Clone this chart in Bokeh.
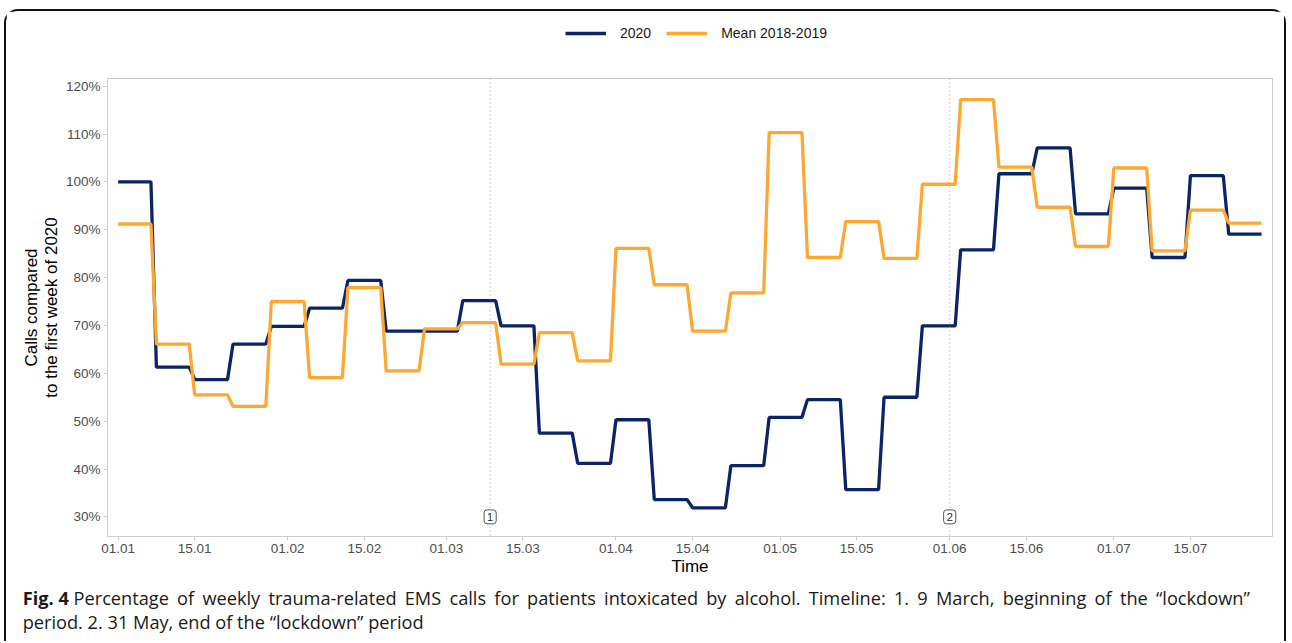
import pandas as pd
from bokeh.plotting import figure
from bokeh.layouts import column
from bokeh.models import (Range1d, FixedTicker, PrintfTickFormatter, Span, Label, Div)
from bokeh.embed import file_html
from bokeh.resources import INLINE

# ---------------- data ----------------
week_starts = pd.date_range("2020-01-01", periods=30, freq="7D")
calls_2020 = [100.0, 61.3, 58.7, 66.1, 69.8, 73.6, 79.4, 68.8, 68.8, 75.2,
              69.9, 47.5, 41.2, 50.3, 33.6, 31.9, 40.7, 50.8, 54.5, 35.7,
              55.0, 69.9, 85.8, 101.7, 107.1, 93.3, 98.7, 84.2, 101.3, 89.1]
calls_mean_2018_2019 = [91.2, 66.1, 55.5, 53.1, 75.0, 59.1, 77.9, 60.5, 69.3, 70.6,
                        61.9, 68.5, 62.6, 86.1, 78.5, 68.8, 76.8, 110.3, 84.2, 91.7,
                        84.0, 99.5, 117.2, 103.1, 94.7, 86.5, 102.9, 85.6, 94.1, 91.4]
tick_dates = ["2020-01-01", "2020-01-15", "2020-02-01", "2020-02-15", "2020-03-01",
              "2020-03-15", "2020-04-01", "2020-04-15", "2020-05-01", "2020-05-15",
              "2020-06-01", "2020-06-15", "2020-07-01", "2020-07-15"]
tick_labels = ["01.01", "15.01", "01.02", "15.02", "01.03", "15.03", "01.04",
               "15.04", "01.05", "15.05", "01.06", "15.06", "01.07", "15.07"]
y_ticks = [30, 40, 50, 60, 70, 80, 90, 100, 110, 120]
event_dates = ["2020-03-09", "2020-06-01"]
event_labels = ["1", "2"]
series_names = ["2020", "Mean 2018-2019"]
caption_bold = "Fig. 4"
caption_line1 = ("Percentage of weekly trauma-related EMS calls for patients intoxicated "
                 "by alcohol. Timeline: 1. 9 March, beginning of the \u201clockdown\u201d")
caption_line2 = "period. 2. 31 May, end of the \u201clockdown\u201d period"

origin = pd.Timestamp("2020-01-01")
def day(d):
    return (pd.Timestamp(d) - origin).days

# each weekly value is held for the 7 days of its week
xs, y20, ymean = [], [], []
for ws, a, b in zip(week_starts, calls_2020, calls_mean_2018_2019):
    d0 = day(ws)
    xs += [d0, d0 + 6]
    y20 += [a, a]
    ymean += [b, b]

NAVY = "#0b2467"
ORANGE = "#fea832"
FONT = "Liberation Sans"
W = 1278

# ---------------- legend strip (keys only; its ranges show none of the data) ----
lf = figure(width=W, height=65, output_backend="svg", toolbar_location=None,
            x_range=Range1d(0, 1), y_range=Range1d(0, 1),
            x_axis_type=None, y_axis_type=None,
            min_border_left=101, min_border_right=12, min_border_top=0,
            min_border_bottom=0)
lf.grid.visible = False
lf.outline_line_color = None
lf.line(xs, y20, line_width=3.3, color=NAVY, legend_label=series_names[0])
lf.line(xs, ymean, line_width=3.3, color=ORANGE, legend_label=series_names[1])
lg = lf.legend[0]
lg.orientation = "horizontal"
lg.location = (458, 35)
lg.margin = 0
lg.padding = 0
lg.spacing = 15
lg.glyph_width = 41
lg.glyph_height = 16
lg.label_height = 16
lg.label_standoff = 14
lg.label_text_font = FONT
lg.label_text_font_size = "14px"
lg.label_text_color = "#1a1a1a"
lg.background_fill_alpha = 0
lg.border_line_color = None

# ---------------- main chart ----------------
p = figure(width=W, height=510, output_backend="svg", toolbar_location=None,
           x_range=Range1d(-1.94, 211.0), y_range=Range1d(25.9, 121.6),
           min_border_left=101, min_border_right=12, min_border_top=2,
           min_border_bottom=50)
p.grid.visible = False
p.outline_line_color = "#cccccc"
p.outline_line_width = 1

for ax in (p.xaxis[0], p.yaxis[0]):
    ax.axis_line_color = "#cccccc"
    ax.major_tick_line_color = "#cccccc"
    ax.minor_tick_line_color = None
    ax.major_tick_in = 0
    ax.major_tick_out = 4
    ax.major_label_text_font = FONT
    ax.major_label_text_font_size = "13.5px"
    ax.major_label_text_color = "#4d4d4d"
    ax.axis_label_text_font = FONT
    ax.axis_label_text_font_size = "17px"
    ax.axis_label_text_font_style = "normal"
    ax.axis_label_text_color = "#000000"

p.xaxis.ticker = FixedTicker(ticks=[day(d) for d in tick_dates])
p.xaxis.major_label_overrides = {day(d): l for d, l in zip(tick_dates, tick_labels)}
p.xaxis.major_label_standoff = 3
p.xaxis.axis_label = "Time"
p.xaxis.axis_label_standoff = 1

p.yaxis.ticker = FixedTicker(ticks=y_ticks)
p.yaxis.formatter = PrintfTickFormatter(format="%d%%")
p.yaxis.major_label_standoff = 3
p.yaxis.axis_label = "Calls compared\nto the first week of 2020"
p.yaxis.axis_label_standoff = 2
p.yaxis.axis_label_text_line_height = 1.05

for d, t in zip(event_dates, event_labels):
    p.add_layout(Span(location=day(d), dimension="height", line_color="#a0a0a0",
                      line_width=1, line_dash="1 3"))
    p.add_layout(Label(x=day(d), y=30, text=t, text_align="center",
                       text_baseline="middle", text_font=FONT,
                       text_font_size="11px", text_color="#222222",
                       background_fill_color="white", border_line_color="#555555",
                       border_line_width=1, padding=3, border_radius=3))

p.line(xs, y20, line_width=3.3, color=NAVY)
p.line(xs, ymean, line_width=3.3, color=ORANGE)

# ---------------- caption ----------------
cap = Div(text=(f"<b>{caption_bold}</b> <span style='word-spacing:3.5px'>"
                f"{caption_line1}</span><br>{caption_line2}"),
          width=W, height=55, margin=(0, 0, 0, 0),
          styles={"font-family": "'Open Sans'", "font-size": "18.2px",
                  "line-height": "24px", "color": "#1a1a1a",
                  "white-space": "nowrap", "padding-left": "16.7px",
                  "padding-top": "0px", "box-sizing": "border-box"})

layout = column(lf, p, cap, spacing=0)
layout.styles = {"border": "2px solid #111111", "border-bottom": "none",
                 "border-radius": "14px 14px 0 0", "margin-left": "4px",
                 "margin-top": "9px"}

open("out.html", "w").write(file_html(layout, INLINE))
